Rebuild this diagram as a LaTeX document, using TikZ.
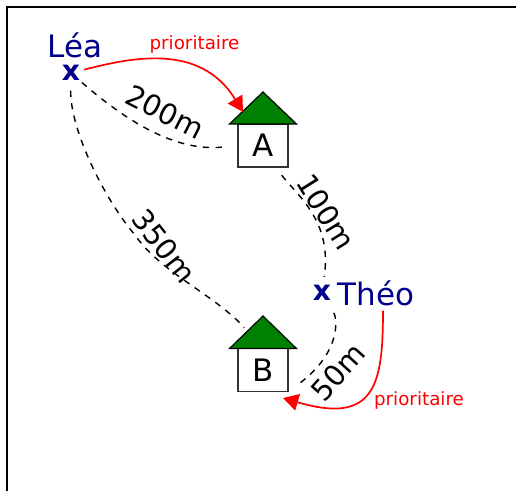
\documentclass[tikz,border=0pt]{standalone}
\usepackage{fontspec}
\setmainfont{DejaVu Sans}
\usepackage{tikz}
\usetikzlibrary{arrows.meta}

\definecolor{navyname}{RGB}{0,0,139}
\definecolor{roofgreen}{RGB}{0,128,0}

\begin{document}
\begin{tikzpicture}[x=0.025cm,y=-0.025cm,
  every node/.style={outer sep=0pt,inner sep=0pt},
  person/.style={text=navyname,font=\fontsize{22}{22}\selectfont},
  cross/.style={text=navyname,font=\fontsize{20}{20}\selectfont\bfseries},
  house/.style={draw=black!80,fill=white,line width=1pt,minimum width=1.25cm,minimum height=1.075cm,font=\fontsize{22}{22}\selectfont},
  roof/.style={draw=black,fill=roofgreen,line width=0.8pt,line join=miter},
  way/.style={black,line width=1pt,dash pattern=on 4.5pt off 4.5pt},
  dist/.style={font=\fontsize{20.5}{21}\selectfont},
  prio/.style={red,line width=1.2pt,-{Triangle[length=0.38cm,width=0.42cm]}},
  priolabel/.style={text=red,font=\fontsize{13}{13}\selectfont}]
\useasboundingbox (0,0) rectangle (516,491);

\draw[line width=1.4pt] (7,491) -- (7,7) -- (516,7);

\node[house] (houseA) at (263,145.5) {A};
\draw[roof] (229.5,124) -- (263,92) -- (296.5,124) -- cycle;
\node[house] (houseB) at (263,370) {B};
\draw[roof] (229.5,348.5) -- (263,316) -- (296.5,348.5) -- cycle;

\node[cross] (lea) at (71,73) {x};
\node[person] (leaname) at (75,45) {Léa};
\node[cross] (theo) at (322,293) {x};
\node[person] (theoname) at (376,293) {Théo};

\draw[way,shorten <=2pt,shorten >=11pt] (lea) .. controls (125,120) and (175,152) .. (houseA.west);
\draw[way,shorten <=7pt,shorten >=20pt] (lea) .. controls (70,130) and (105,200) .. (135,235) .. controls (160,272) and (215,295) .. (houseB.north);
\draw[way,shorten <=3pt,shorten >=6pt] (houseA.south) ++(16,5) .. controls (300,198) and (332,222) .. (theo);
\draw[way,shorten <=10pt,shorten >=7pt] (theo) .. controls (338,320) and (340,355) .. (houseB.south east);

\node[dist,rotate=-27] (dista) at (165,112) {200m};
\node[dist,rotate=-52] (distb) at (164,246) {350m};
\node[dist,rotate=-58] (distc) at (326,212) {100m};
\node[dist,rotate=48] (distd) at (338,372) {50m};

\draw[prio,shorten <=3pt] (lea) .. controls (130,58) and (200,42) .. (243,112);
\draw[prio] (theoname.south) ++(7,5) .. controls (383,385) and (375,425) .. (283,398);

\node[priolabel] (prioa) at (194.5,44) {prioritaire};
\node[priolabel] (priob) at (419,400) {prioritaire};
\end{tikzpicture}
\end{document}
